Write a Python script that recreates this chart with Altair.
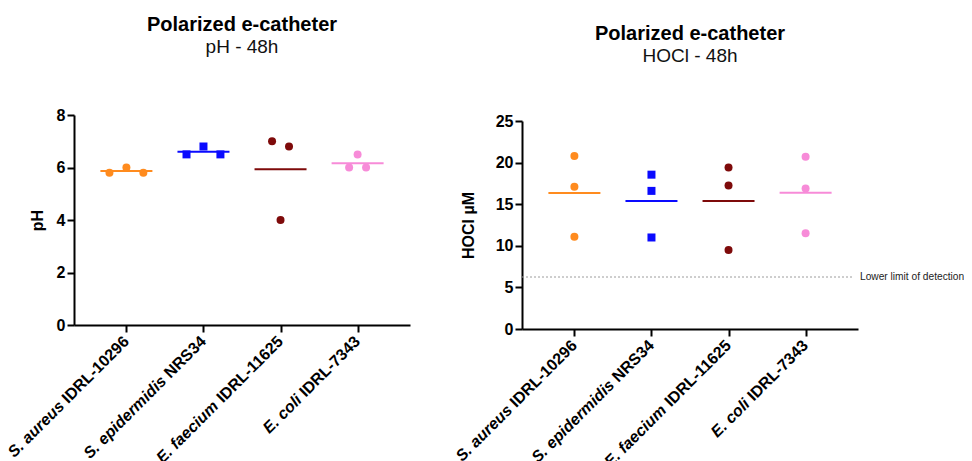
import altair as alt
import pandas as pd

FONT = "Liberation Sans"

# ---------------- data ----------------
categories = ["S. aureus IDRL-10296", "S. epidermidis NRS34",
              "E. faecium IDRL-11625", "E. coli IDRL-7343"]
italic_parts = ["S. aureus", "S. epidermidis", "E. faecium", "E. coli"]
plain_parts = [" IDRL-10296", " NRS34", " IDRL-11625", " IDRL-7343"]
colors = ["#FF8B1E", "#0A0AFF", "#7E0A0A", "#F78BD8"]
shapes = ["circle", "square", "circle", "circle"]

ph_values = [[5.8, 6.0, 5.8], [6.5, 6.8, 6.5], [7.0, 6.8, 4.0], [6.0, 6.5, 6.0]]
ph_spread = [[-1, 0, 1], [-1, 0, 1], [-0.5, 0.5, 0], [-0.5, 0, 0.5]]

hocl_values = [[20.8, 17.1, 11.1], [18.55, 16.6, 11.0], [19.4, 17.25, 9.5], [20.7, 16.9, 11.5]]
hocl_spread = [[0, 0, 0], [0, 0, 0], [0, 0, 0], [0, 0, 0]]

lod_value = [6.25]
lod_label = ["Lower limit of detection"]

ph_ticks = [0, 2, 4, 6, 8]
hocl_ticks = [0, 5, 10, 15, 20, 25]

# ---------------- layout / style ----------------
W = 336
LABEL_SIZE = 16
LABEL_DY = 14
SPREAD_UNIT = 0.22

# Arial/Liberation Sans Bold advance widths (1/1000 em)
BOLD_W = {" ": 278, "I": 278, "D": 722, "R": 722, "L": 611, "-": 333, "N": 722, "S": 667}
for d in "0123456789":
    BOLD_W[d] = 556


def text_width(s, size):
    return sum(BOLD_W.get(c, 556) for c in s) * size / 1000.0


def long_df(values, spread):
    rows = []
    for i, (cat, vals, sp) in enumerate(zip(categories, values, spread)):
        for v, s in zip(vals, sp):
            rows.append({"category": cat, "idx": i + 1, "value": v, "spread": s})
    return pd.DataFrame(rows)


cat_df = pd.DataFrame({"category": categories, "idx": list(range(1, len(categories) + 1)),
                       "italic": italic_parts, "plain": plain_parts})

color = alt.Color("category:N", scale=alt.Scale(domain=categories, range=colors), legend=None)
shape = alt.Shape("category:N", scale=alt.Scale(domain=categories, range=shapes), legend=None)


def panel(values, spread, ticks, y_title, title_pad, height, y_range, subtitle, title_offset,
          with_lod=False):
    df = long_df(values, spread)
    xs = alt.Scale(domain=[0.32, 4.68], nice=False, zero=False)
    ys = alt.Scale(domain=[ticks[0], ticks[-1]], nice=False, zero=True, range=y_range)
    x_axis = alt.Axis(values=list(range(1, len(categories) + 1)), labels=False, title=None,
                      grid=False, tickSize=7, tickWidth=2, tickColor="black",
                      domainColor="black", domainWidth=2)
    y_axis = alt.Axis(values=ticks, title=y_title, grid=False, tickSize=7, tickWidth=2,
                      tickColor="black", domainColor="black", domainWidth=2,
                      labelFont=FONT, labelFontSize=16, labelFontWeight="bold",
                      labelColor="black", labelPadding=2,
                      titleFont=FONT, titleFontSize=16, titleFontWeight="bold",
                      titleColor="black", titlePadding=title_pad)

    means = alt.Chart(df).mark_tick(orient="horizontal", size=52, thickness=2).encode(
        x=alt.X("idx:Q", scale=xs, axis=x_axis),
        y=alt.Y("mean(value):Q", scale=ys, axis=y_axis),
        color=color,
    )
    points = alt.Chart(df).transform_calculate(
        pos=f"datum.idx + datum.spread * {SPREAD_UNIT}"
    ).mark_point(filled=True, size=64, opacity=1).encode(
        x=alt.X("pos:Q", scale=xs),
        y=alt.Y("value:Q", scale=ys),
        color=color,
        shape=shape,
    )
    layers = [means, points]

    plain = alt.Chart(cat_df).mark_text(
        angle=315, align="right", baseline="middle", font=FONT, fontSize=LABEL_SIZE,
        fontWeight="bold", color="black"
    ).encode(x=alt.X("idx:Q", scale=xs), y=alt.value(height + LABEL_DY), text="plain:N")
    layers.append(plain)
    for i, (it, pl) in enumerate(zip(italic_parts, plain_parts)):
        w = text_width(pl, LABEL_SIZE)
        layers.append(
            alt.Chart(cat_df).transform_filter(alt.datum.idx == i + 1).mark_text(
                angle=315, align="right", baseline="middle", font=FONT, fontSize=LABEL_SIZE,
                fontWeight="bold", fontStyle="italic", color="black", dx=-w
            ).encode(x=alt.X("idx:Q", scale=xs), y=alt.value(height + LABEL_DY), text="italic:N")
        )

    if with_lod:
        lod_df = pd.DataFrame({"value": lod_value, "label": lod_label})
        layers.insert(0, alt.Chart(lod_df).mark_rule(
            color="#9c9c9c", strokeDash=[2, 2], strokeWidth=1
        ).encode(y=alt.Y("value:Q", scale=ys), x=alt.value(0), x2=alt.value(W - 4)))
        layers.append(alt.Chart(lod_df).mark_text(
            align="left", baseline="middle", font=FONT, fontSize=10.2, color="#222"
        ).encode(y=alt.Y("value:Q", scale=ys), x=alt.value(W + 2), text="label:N"))

    return alt.layer(*layers).properties(
        width=W, height=height,
        title=alt.TitleParams(
            text="Polarized e-catheter", subtitle=subtitle, anchor="middle",
            font=FONT, fontSize=20, fontWeight="bold", color="black",
            subtitleFont=FONT, subtitleFontSize=19, subtitleFontWeight="normal",
            subtitleColor="#111", subtitlePadding=3, offset=title_offset,
        ),
    )


left = panel(ph_values, ph_spread, ph_ticks, "pH", 11, 210, [210, 0], "pH - 48h", 50)
right = panel(hocl_values, hocl_spread, hocl_ticks, "HOCl µM", 19, 214, [214, 6], "HOCl - 48h",
              47.5, with_lod=True)

chart = alt.hconcat(left, right, spacing=112, bounds="flush").properties(
    padding={"left": -3, "top": 7, "right": -1, "bottom": 0},
    background="white",
).configure_view(strokeWidth=0, strokeOpacity=0).configure_axis(grid=False)

chart.save("out.html", embed_options={"renderer": "svg", "actions": False})
